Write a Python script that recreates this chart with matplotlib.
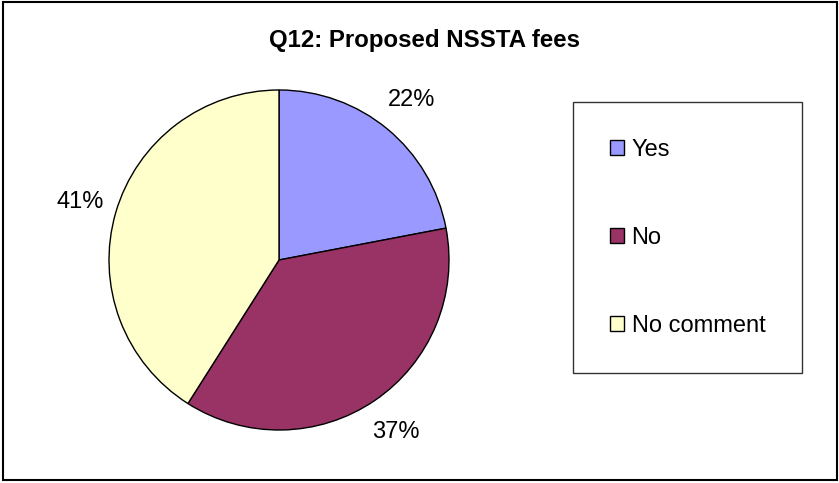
import matplotlib
matplotlib.use("Agg")
import matplotlib.pyplot as plt
from matplotlib.patches import Rectangle

plt.rcParams["font.family"] = ["Liberation Sans", "DejaVu Sans"]

# survey answers for Q12
categories = ["Yes", "No", "No comment"]
shares = [22, 37, 41]
colors = ["#9999FF", "#993366", "#FFFFCC"]

W, H = 839, 483
fig = plt.figure(figsize=(W / 100, H / 100), dpi=100)

# pie axes: centre (279, 260) px, radius 170 px; pie() uses limits of +-1.25
cx, cy, r = 279, 260, 170
half = 1.25 * r
ax = fig.add_axes([(cx - half) / W, (H - cy - half) / H, 2 * half / W, 2 * half / H])

wedges, _, pct_texts = ax.pie(
    shares,
    colors=colors,
    startangle=90,
    counterclock=False,
    autopct="%d%%",
    pctdistance=1.22,
    wedgeprops=dict(edgecolor="black", linewidth=1.0),
    textprops=dict(fontsize=17, color="black"),
)
ax.set_xlim(-1.25, 1.25)
ax.set_ylim(-1.25, 1.25)

fig.text(424 / W, 1 - 40 / H, "Q12: Proposed NSSTA fees",
         ha="center", va="center", fontsize=17.3, fontweight="bold")

leg = fig.legend(
    wedges, categories,
    loc="upper left",
    bbox_to_anchor=(573 / W, 1 - 102 / H),
    borderaxespad=0,
    fontsize=17,
    frameon=True,
    fancybox=False,
    shadow=False,
    handlelength=0.63,
    handleheight=0.63,
    handletextpad=0.3,
    labelspacing=2.8,
    borderpad=1.55,
)
leg.get_frame().set_edgecolor("black")
leg.get_frame().set_linewidth(1.0)
for h in leg.legend_handles:
    h.set_edgecolor("black")
    h.set_linewidth(1.0)

# outer chart border
fig.patches.append(Rectangle((3 / W, 3 / H), 834 / W, 478 / H, transform=fig.transFigure,
                             fill=False, edgecolor="black", linewidth=1.5))

fig.savefig("out.png", dpi=100)
